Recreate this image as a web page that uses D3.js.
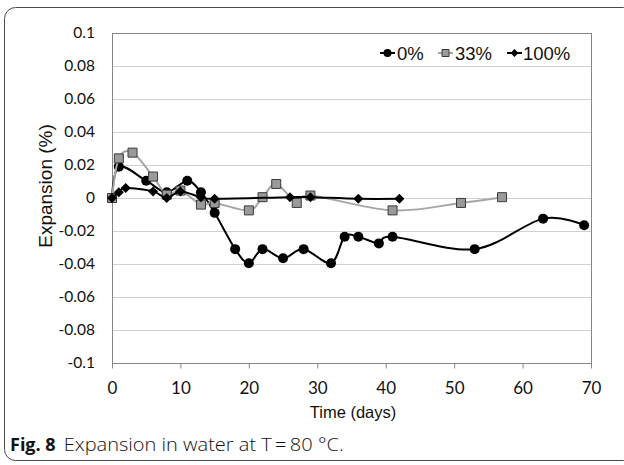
<!DOCTYPE html>
<html>
<head>
<meta charset="utf-8">
<script src="https://cdn.jsdelivr.net/npm/d3@7"></script>
<style>
  html, body { margin: 0; padding: 0; background: #fff; }
  svg { display: block; }
</style>
</head>
<body>
<svg id="chart" width="624" height="465"></svg>
<script>
// ---- data ----
const days0 = [0, 1, 5, 8, 11, 13, 15, 18, 20, 22, 25, 28, 32, 34, 36, 39, 41, 53, 63, 69];
const vals0 = [0, 0.019, 0.0105, 0.0035, 0.0105, 0.0035, -0.009, -0.031, -0.0395, -0.031, -0.0365, -0.031, -0.0395, -0.0235, -0.0235, -0.0275, -0.0235, -0.031, -0.0125, -0.0165];

const days33 = [0, 1, 3, 6, 8, 10, 13, 15, 20, 22, 24, 27, 29, 41, 51, 57];
const vals33 = [0, 0.024, 0.0275, 0.013, 0.002, 0.0045, -0.004, -0.003, -0.0075, 0.0005, 0.0085, -0.003, 0.0015, -0.0075, -0.003, 0.0005];

const days100 = [0, 1, 2, 6, 8, 10, 13, 15, 26, 29, 36, 42];
const vals100 = [0, 0.0035, 0.006, 0.004, 0, 0.004, 0.0005, -0.0005, 0.0005, 0.0005, -0.0005, -0.0005];

const seriesNames = ["0%", "33%", "100%"];
const xTicks = [0, 10, 20, 30, 40, 50, 60, 70];
const yTicks = [-0.1, -0.08, -0.06, -0.04, -0.02, 0, 0.02, 0.04, 0.06, 0.08, 0.1];
const yTickLabels = ["-0.1", "-0.08", "-0.06", "-0.04", "-0.02", "0", "0.02", "0.04", "0.06", "0.08", "0.1"];
const xTitle = "Time (days)";
const yTitle = "Expansion (%)";

// ---- layout ----
const svg = d3.select("#chart");
const L = 112, R = 591, T = 33, B = 363;
const x = d3.scaleLinear().domain([0, 70]).range([L, R]);
const y = d3.scaleLinear().domain([-0.1, 0.1]).range([B, T]);

// outer rounded border
svg.append("rect")
  .attr("x", 4.5).attr("y", 7.5).attr("width", 630).attr("height", 453)
  .attr("rx", 11).attr("ry", 11)
  .attr("fill", "none").attr("stroke", "#4a4a4a").attr("stroke-width", 1);

// gridlines
svg.append("g").selectAll("line").data(yTicks.filter(v => v > -0.1 && v < 0.1))
  .join("line")
  .attr("x1", L).attr("x2", R)
  .attr("y1", d => Math.round(y(d)) + 0.5).attr("y2", d => Math.round(y(d)) + 0.5)
  .attr("stroke", "#d0d0d0").attr("stroke-width", 1);

// plot frame
svg.append("rect")
  .attr("x", L + 0.5).attr("y", T + 0.5).attr("width", R - L).attr("height", B - T)
  .attr("fill", "none").attr("stroke", "#868686").attr("stroke-width", 1);

// x axis
const xAxis = d3.axisBottom(x).tickValues(xTicks).tickSize(5).tickPadding(13).tickFormat(d3.format("d"));
const gx = svg.append("g").attr("transform", `translate(0,${B + 0.5})`).call(xAxis);
gx.select(".domain").remove();
gx.selectAll(".tick line").attr("stroke", "#868686");
gx.selectAll(".tick text").attr("font-family", "Lato, 'Open Sans', sans-serif")
  .attr("font-size", 17).attr("fill", "#111");

// y axis
const yAxis = d3.axisLeft(y).tickValues(yTicks).tickSize(0).tickPadding(17)
  .tickFormat((d, i) => yTickLabels[i]);
const gy = svg.append("g").attr("transform", `translate(${L},0)`).call(yAxis);
gy.select(".domain").remove();
gy.selectAll(".tick text").attr("font-family", "Lato, 'Open Sans', sans-serif")
  .attr("font-size", 15.5).attr("fill", "#111");

// axis titles
svg.append("text").attr("x", 353).attr("y", 418).attr("text-anchor", "middle")
  .attr("font-family", "'Liberation Sans', Arial, sans-serif").attr("font-size", 16.5)
  .attr("fill", "#111").text(xTitle);
svg.append("text").attr("transform", "translate(52,186) rotate(-90)").attr("text-anchor", "middle")
  .attr("font-family", "'Liberation Sans', Arial, sans-serif").attr("font-size", 19)
  .attr("fill", "#111").text(yTitle);

// series
const curve = d3.curveCardinal.tension(0);
const lineGen = d3.line().x(d => x(d[0])).y(d => y(d[1])).curve(curve);
const s0 = days0.map((d, i) => [d, vals0[i]]);
const s33 = days33.map((d, i) => [d, vals33[i]]);
const s100 = days100.map((d, i) => [d, vals100[i]]);

const plot = svg.append("g");
function drawSeries(data, color, marker) {
  plot.append("path").datum(data).attr("d", lineGen)
    .attr("fill", "none").attr("stroke", color).attr("stroke-width", 2).attr("stroke-linejoin", "round");
  const g = plot.append("g");
  g.selectAll("path").data(data).join("path")
    .attr("transform", d => `translate(${x(d[0])},${y(d[1])})`)
    .attr("d", marker.d).attr("fill", marker.fill).attr("stroke", marker.stroke).attr("stroke-width", marker.sw);
}
const circleM = { d: d3.symbol(d3.symbolCircle, Math.PI * 25)(), fill: "#000", stroke: "none", sw: 0 };
const squareM = { d: "M-4.5,-4.5H4.5V4.5H-4.5Z", fill: "#9a9a9a", stroke: "#3a3a3a", sw: 1 };
const diamondM = { d: "M0,-5L5,0L0,5L-5,0Z", fill: "#000", stroke: "none", sw: 0 };

drawSeries(s0, "#000", circleM);
drawSeries(s33, "#a6a6a6", squareM);
drawSeries(s100, "#000", diamondM);

// legend
const legend = svg.append("g");
const legItems = [
  { name: seriesNames[0], color: "#000", m: { d: d3.symbol(d3.symbolCircle, Math.PI * 16)(), fill: "#000", stroke: "none", sw: 0 }, x: 380, tx: 397 },
  { name: seriesNames[1], color: "#a6a6a6", m: { d: "M-3.5,-3.5H3.5V3.5H-3.5Z", fill: "#9a9a9a", stroke: "#3a3a3a", sw: 1 }, x: 438, tx: 455 },
  { name: seriesNames[2], color: "#000", m: { d: "M0,-4L4,0L0,4L-4,0Z", fill: "#000", stroke: "none", sw: 0 }, x: 507, tx: 523 }
];
legItems.forEach(it => {
  legend.append("line").attr("x1", it.x).attr("x2", it.x + 15).attr("y1", 53).attr("y2", 53)
    .attr("stroke", it.color).attr("stroke-width", 2);
  legend.append("path").attr("d", it.m.d).attr("transform", `translate(${it.x + 7.5},53)`)
    .attr("fill", it.m.fill).attr("stroke", it.m.stroke).attr("stroke-width", it.m.sw);
  legend.append("text").attr("x", it.tx).attr("y", 60)
    .attr("font-family", "'Liberation Sans', Arial, sans-serif").attr("font-size", 18.5)
    .attr("fill", "#111").text(it.name);
});

// caption
const cap = svg.append("text").attr("x", 10).attr("y", 451)
  .attr("font-family", "'Open Sans', 'Noto Sans', sans-serif").attr("font-size", 18).attr("fill", "#111");
cap.append("tspan").attr("font-weight", "bold").text("Fig. 8");
cap.append("tspan").attr("dx", 8).attr("textLength", 280).attr("lengthAdjust", "spacingAndGlyphs")
  .attr("font-weight", 300).text("Expansion in water at T\u2009=\u200980 \u00B0C.");
</script>
</body>
</html>
